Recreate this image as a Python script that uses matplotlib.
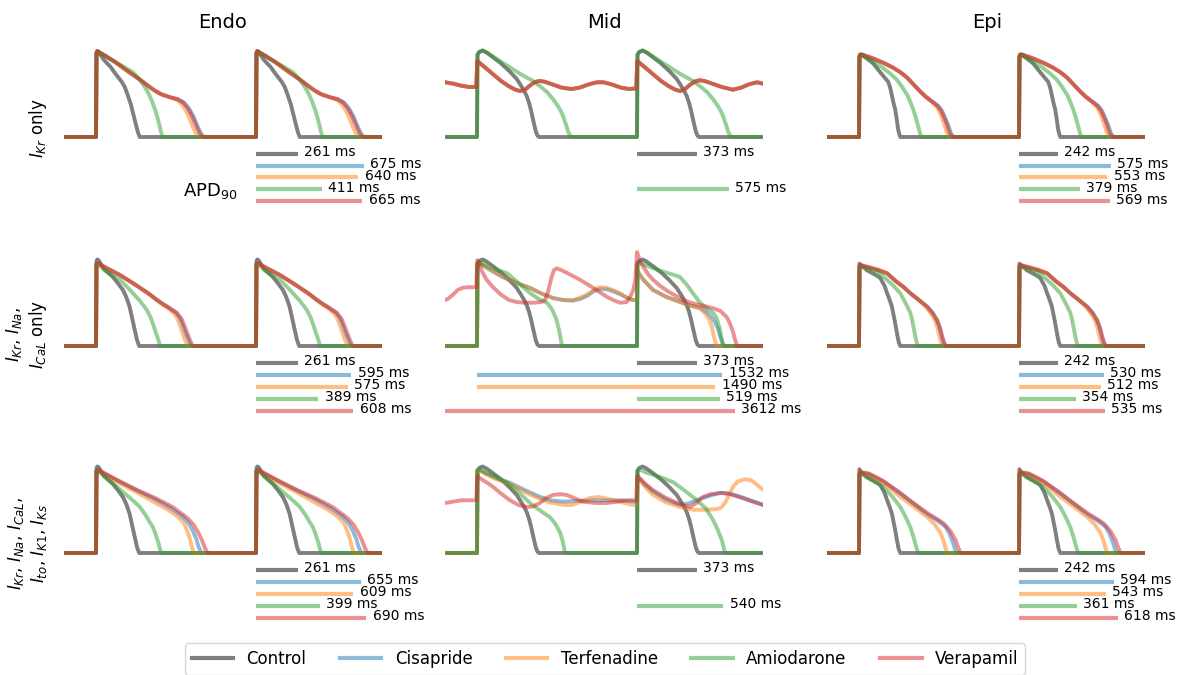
import matplotlib.pyplot as plt
from matplotlib.lines import Line2D

drugs = ["Control", "Cisapride", "Terfenadine", "Amiodarone", "Verapamil"]
colors = ["k", "tab:blue", "tab:orange", "tab:green", "tab:red"]
columns = ["Endo", "Mid", "Epi"]
row_labels = [r"$I_{Kr}$ only",
              r"$I_{Kr}$, $I_{Na}$," "\n" r"$I_{CaL}$ only",
              r"$I_{Kr}$, $I_{Na}$, $I_{CaL}$," "\n" r"$I_{to}$, $I_{K1}$, $I_{Ks}$"]

# APD90 (ms) per panel, order of drugs; None = no repolarisation
apd_endo = [[261, 675, 640, 411, 665], [261, 595, 575, 389, 608], [261, 655, 609, 399, 690]]
apd_mid = [[373, None, None, 575, None], [373, 1532, 1490, 519, 3612], [373, None, None, 540, None]]
apd_epi = [[242, 575, 553, 379, 569], [242, 530, 512, 354, 535], [242, 594, 543, 361, 618]]
# start of the APD bar (ms) in the Mid / I_Kr, I_Na, I_CaL panel
start_mid2 = [1000, 0, 0, 1000, -2000]

# single-beat traces (ms, mV), repeated every 1000 ms
endo_1 = {
    "Control": [(0, -86), (3, 38), (8, 41), (16, 40), (50, 28), (90, 18), (130, 5), (160, -4), (180, -12),
                (200, -25), (218, -38), (235, -54), (250, -68), (262, -79), (273, -86)],
    "Cisapride": [(0, -86), (3, 38), (8, 41), (16, 40), (60, 34), (120, 25), (200, 11), (280, -2), (330, -11),
                  (365, -17), (410, -23), (460, -27), (510, -30), (550, -35), (582, -44), (608, -55),
                  (628, -66), (648, -77), (665, -84), (682, -86)],
    "Terfenadine": [(0, -86), (3, 38), (8, 41), (16, 40), (60, 34), (120, 25), (200, 11), (280, -2), (330, -11),
                    (365, -17), (410, -23), (460, -27), (505, -31), (535, -37), (560, -46), (582, -57),
                    (600, -68), (618, -78), (633, -84), (646, -86)],
    "Amiodarone": [(0, -86), (3, 38), (8, 41), (16, 40), (60, 33), (120, 25), (180, 17), (230, 10), (270, 0),
                   (300, -10), (325, -20), (350, -33), (370, -46), (385, -58), (398, -70), (408, -80), (416, -86)],
    "Verapamil": [(0, -86), (3, 38), (8, 41), (16, 40), (60, 34), (120, 25), (200, 11), (280, -2), (330, -11),
                  (365, -17), (410, -23), (460, -27), (510, -30), (545, -35), (575, -44), (600, -55),
                  (620, -66), (640, -77), (657, -84), (672, -86)],
}
endo_2 = {
    "Control": [(0, -86), (3, 39), (8, 42), (16, 41), (50, 28), (106, 16), (140, 6), (168, -3), (190, -14),
                (210, -28), (226, -45), (242, -62), (256, -77), (270, -86)],
    "Cisapride": [(0, -86), (3, 35), (10, 37), (60, 30), (150, 19), (231, 7), (320, -7), (400, -21), (460, -30),
                  (500, -37), (527, -46), (546, -58), (562, -68), (577, -77), (590, -84), (600, -86)],
    "Terfenadine": [(0, -86), (3, 35), (10, 37), (60, 30), (150, 19), (231, 7), (320, -7), (400, -22), (455, -31),
                    (490, -38), (512, -47), (528, -58), (543, -68), (556, -77), (568, -84), (578, -86)],
    "Amiodarone": [(0, -86), (3, 35), (10, 36), (60, 25), (150, 12), (200, 0), (231, -8), (270, -18), (300, -27),
                   (318, -33), (340, -43), (356, -53), (372, -65), (390, -77), (400, -86)],
    "Verapamil": [(0, -86), (3, 35), (10, 37), (60, 30), (150, 19), (231, 7), (320, -7), (400, -21), (460, -30),
                  (506, -37), (535, -46), (556, -58), (572, -68), (587, -77), (600, -84), (612, -86)],
}
endo_3 = {
    "Control": [(0, -86), (3, 39), (8, 42), (16, 41), (50, 28), (106, 16), (140, 6), (168, -3), (190, -14),
                (210, -28), (226, -45), (242, -62), (256, -77), (270, -86)],
    "Cisapride": [(0, -86), (3, 35), (10, 37), (60, 31), (150, 19), (260, 6), (373, -7), (470, -20), (540, -32),
                  (580, -42), (605, -53), (625, -64), (640, -76), (655, -84), (662, -86)],
    "Terfenadine": [(0, -86), (3, 35), (10, 37), (60, 30), (150, 17), (260, 3), (373, -12), (450, -22),
                    (516, -33), (550, -42), (570, -53), (585, -64), (598, -76), (612, -86)],
    "Amiodarone": [(0, -86), (3, 35), (10, 36), (60, 26), (150, 8), (220, -6), (275, -18), (310, -30), (335, -40),
                   (356, -48), (375, -60), (390, -71), (400, -80), (410, -86)],
    "Verapamil": [(0, -86), (3, 35), (10, 37), (60, 31), (150, 20), (260, 7), (373, -5), (480, -18), (565, -33),
                  (610, -44), (640, -56), (662, -67), (680, -78), (692, -84), (700, -86)],
}
epi_1 = {
    "Control": [(0, -86), (3, 33), (8, 36), (20, 35), (50, 30), (88, 23), (132, 10), (160, 2), (182, -4),
                (195, -13), (206, -25), (216, -36), (226, -45), (236, -60), (245, -75), (252, -82), (258, -86)],
    "Cisapride": [(0, -86), (3, 33), (8, 36), (20, 36), (80, 31), (150, 24), (210, 17), (258, 10), (300, 2),
                  (340, -8), (384, -19), (420, -27), (460, -34), (496, -40), (518, -47), (534, -55), (548, -63),
                  (560, -70), (572, -79), (584, -84), (594, -86)],
    "Terfenadine": [(0, -86), (3, 33), (8, 36), (20, 36), (80, 31), (150, 24), (210, 17), (258, 10), (300, 2),
                    (340, -8), (384, -19), (420, -27), (460, -35), (485, -41), (502, -48), (516, -56), (528, -64),
                    (538, -71), (550, -80), (560, -85), (568, -86)],
    "Amiodarone": [(0, -86), (3, 33), (8, 36), (20, 35), (60, 30), (100, 24), (151, 16), (200, 7), (239, -2),
                   (270, -12), (302, -24), (322, -35), (340, -46), (356, -58), (371, -71), (382, -81), (390, -86)],
    "Verapamil": [(0, -86), (3, 33), (8, 36), (20, 36), (80, 31), (150, 24), (210, 17), (258, 10), (300, 2),
                  (340, -8), (384, -19), (420, -27), (460, -34), (490, -40), (512, -47), (528, -55), (542, -63),
                  (553, -70), (566, -79), (578, -84), (588, -86)],
}
epi_2 = {
    "Control": [(0, -86), (3, 36), (8, 34), (20, 32), (50, 26), (90, 21), (132, 15), (160, 3), (176, -8),
                (192, -18), (206, -28), (216, -40), (226, -52), (238, -68), (248, -80), (258, -86)],
    "Cisapride": [(0, -86), (3, 31), (10, 33), (60, 30), (120, 26), (176, 21), (230, 10), (280, 1), (321, -8),
                  (380, -19), (428, -28), (460, -37), (486, -48), (503, -59), (516, -71), (528, -81), (540, -86)],
    "Terfenadine": [(0, -86), (3, 31), (10, 33), (60, 30), (120, 26), (176, 21), (230, 10), (280, 1), (321, -8),
                    (380, -19), (420, -29), (450, -38), (475, -48), (490, -59), (502, -71), (513, -81), (524, -86)],
    "Amiodarone": [(0, -86), (3, 31), (10, 33), (50, 30), (113, 24), (170, 13), (220, 2), (258, -8), (290, -22),
                   (321, -37), (336, -52), (347, -66), (356, -76), (366, -86)],
    "Verapamil": [(0, -86), (3, 32), (10, 34), (60, 31), (120, 27), (176, 22), (230, 10), (280, 1), (321, -8),
                  (380, -19), (428, -28), (460, -37), (490, -48), (507, -59), (520, -71), (532, -81), (545, -86)],
}
epi_3 = {
    "Control": [(0, -86), (3, 38), (8, 34), (20, 32), (50, 26), (90, 21), (132, 15), (160, 3), (176, -8),
                (192, -18), (206, -28), (216, -40), (226, -52), (238, -68), (248, -80), (258, -86)],
    "Cisapride": [(0, -86), (3, 31), (10, 33), (60, 31), (150, 20), (258, 2), (340, -13), (428, -29), (490, -38),
                  (540, -47), (565, -57), (585, -69), (598, -79), (606, -86)],
    "Terfenadine": [(0, -86), (3, 31), (10, 33), (60, 30), (150, 18), (258, -3), (340, -17), (428, -33),
                    (470, -43), (509, -56), (528, -68), (540, -78), (548, -84), (555, -86)],
    "Amiodarone": [(0, -86), (3, 31), (10, 33), (60, 25), (151, 12), (210, -3), (258, -18), (290, -32), (321, -48),
                   (340, -62), (355, -75), (364, -82), (372, -86)],
    "Verapamil": [(0, -86), (3, 32), (10, 34), (60, 32), (150, 21), (258, 3), (340, -12), (428, -27), (490, -36),
                  (528, -42), (570, -53), (604, -67), (620, -78), (630, -84), (638, -86)],
}
mid_control = [(0, -86), (3, 36), (15, 40), (35, 42), (60, 39), (100, 32), (150, 23), (200, 12), (248, 0),
               (275, -10), (295, -18), (310, -25), (325, -35), (340, -49), (355, -65), (368, -78), (378, -84),
               (388, -86)]
mid_amio_1 = [(0, -86), (3, 36), (15, 40), (35, 42), (70, 38), (120, 30), (200, 18), (280, 6), (350, -3),
              (400, -12), (440, -20), (475, -30), (505, -40), (525, -48), (538, -55), (555, -67), (570, -78),
              (582, -84), (593, -86)]

# full traces (ms, mV) for the irregular Mid cell runs
mid_osc_1 = [(-200, -5), (-150, -7), (-100, -10), (-50, -12), (-5, -12), (2, 26), (10, 25), (50, 17), (100, 7),
             (150, -3), (200, -11), (240, -16), (270, -18), (300, -16), (330, -10), (360, -5), (390, -3),
             (420, -4), (470, -8), (530, -13), (590, -15), (640, -13), (700, -8), (750, -5), (790, -5),
             (840, -8), (900, -13), (950, -15), (995, -14), (1002, 26), (1010, 25), (1050, 17), (1100, 7),
             (1150, -3), (1200, -11), (1240, -16), (1270, -18), (1300, -15), (1330, -9), (1360, -4), (1390, -2),
             (1420, -3), (1470, -7), (1530, -12), (1600, -16), (1650, -13), (1700, -8), (1750, -5), (1790, -7)]
mid_cis_2 = [(-200, -86), (0, -86), (3, 36), (12, 37), (60, 30), (110, 23), (162, 16), (250, 7), (331, 0),
             (400, -8), (475, -15), (540, -18), (600, -19), (650, -16), (687, -12), (730, -5), (769, -2),
             (810, -2), (850, -5), (900, -10), (940, -15), (975, -18), (1000, -18), (1003, 26), (1010, 22),
             (1040, 12), (1100, -3), (1180, -13), (1270, -21), (1330, -26), (1395, -30), (1430, -35),
             (1460, -42), (1485, -50), (1505, -60), (1520, -72), (1535, -82), (1545, -86), (1790, -86)]
mid_ter_2 = [(-200, -86), (0, -86), (3, 36), (12, 37), (60, 30), (110, 23), (162, 16), (250, 7), (331, 0),
             (400, -8), (475, -15), (540, -18), (600, -18), (650, -14), (687, -10), (730, -3), (769, 1),
             (810, 0), (850, -3), (900, -9), (940, -15), (975, -18), (1000, -18), (1003, 26), (1010, 22),
             (1040, 12), (1100, -3), (1180, -13), (1270, -21), (1330, -26), (1395, -30), (1425, -38),
             (1450, -46), (1468, -58), (1480, -72), (1492, -82), (1500, -86), (1790, -86)]
mid_amio_2 = [(-200, -86), (0, -86), (3, 36), (12, 38), (60, 33), (120, 27), (187, 22), (260, 7), (333, -8),
              (390, -17), (437, -22), (470, -32), (498, -48), (515, -65), (525, -78), (531, -86), (1000, -86),
              (1003, 36), (1012, 38), (1060, 33), (1150, 25), (1220, 20), (1269, 16), (1310, 5), (1350, -8),
              (1394, -22), (1440, -31), (1477, -37), (1500, -46), (1519, -62), (1530, -76), (1540, -86),
              (1790, -86)]
mid_ver_2 = [(-200, -18), (-180, -16), (-150, -10), (-120, -3), (-90, 0), (-60, 1), (-5, 1), (2, 41), (10, 38),
             (30, 25), (60, 12), (100, 1), (150, -10), (200, -18), (250, -21), (300, -22), (350, -22),
             (400, -21), (425, -18), (445, -5), (465, 15), (480, 26), (498, 29), (530, 26), (580, 20),
             (644, 12), (727, 0), (810, -13), (860, -19), (894, -22), (935, -21), (960, -12), (977, -3),
             (990, 12), (1000, 53), (1005, 50), (1020, 38), (1040, 31), (1070, 20), (1100, 12), (1150, 2),
             (1200, -6), (1287, -18), (1350, -23), (1420, -27), (1475, -30), (1520, -34), (1560, -43),
             (1580, -52), (1600, -65), (1612, -76), (1625, -86), (1790, -86)]
mid_cis_3 = [(-200, -86), (0, -86), (3, 36), (12, 37), (60, 31), (120, 25), (206, 18), (300, 7), (394, -3),
             (460, -8), (537, -10), (630, -9), (725, -8), (810, -8), (894, -8), (940, -9), (975, -10),
             (1000, -10), (1003, 28), (1010, 26), (1050, 15), (1100, 5), (1180, -7), (1270, -15), (1330, -12),
             (1380, -7), (1420, -4), (1470, 0), (1525, 3), (1580, 2), (1650, -3), (1720, -9), (1790, -15)]
mid_ter_3 = [(-200, -86), (0, -86), (3, 36), (12, 37), (60, 30), (120, 23), (206, 16), (300, 4), (394, -6),
             (450, -11), (500, -13), (545, -15), (590, -15), (640, -11), (700, -5), (756, -3), (820, -6),
             (894, -10), (940, -13), (975, -15), (1000, -15), (1003, 26), (1010, 24), (1050, 12), (1100, 0),
             (1180, -11), (1270, -18), (1355, -22), (1440, -22), (1500, -21), (1525, -19), (1550, -12),
             (1575, 0), (1600, 12), (1630, 20), (1670, 23), (1712, 22), (1750, 15), (1790, 7)]
mid_amio_3 = [(-200, -86), (0, -86), (3, 36), (12, 38), (60, 33), (120, 26), (190, 18), (260, 4), (331, -12),
              (400, -24), (456, -33), (490, -43), (520, -56), (537, -70), (550, -86), (1000, -86), (1003, 36),
              (1012, 38), (1060, 33), (1150, 26), (1225, 19), (1300, 6), (1375, -8), (1430, -20), (1475, -37),
              (1505, -52), (1530, -67), (1542, -78), (1550, -86), (1790, -86)]
mid_ver_3 = [(-200, -12), (-150, -10), (-100, -8), (-50, -8), (-5, -8), (2, 28), (10, 26), (50, 20), (100, 12),
             (150, 2), (206, -8), (260, -15), (312, -18), (350, -17), (394, -12), (430, -5), (475, 0), (520, 1),
             (560, 0), (610, -5), (662, -10), (740, -12), (812, -12), (880, -10), (937, -8), (995, -8),
             (1002, 28), (1010, 26), (1050, 17), (1100, 7), (1170, -3), (1250, -12), (1300, -16), (1331, -18),
             (1370, -12), (1412, -3), (1460, 1), (1525, 3), (1580, 1), (1637, -3), (1710, -9), (1790, -15)]

T0, T1, REST = -200, 1790, -86


def two_beats(beat):
    pts = [(T0, REST)] + beat + [(t + 1000, v) for t, v in beat] + [(T1, REST)]
    return [p[0] for p in pts], [p[1] for p in pts]


def full(pts):
    return [p[0] for p in pts], [p[1] for p in pts]


traces = [
    [{d: two_beats(endo_1[d]) for d in drugs},
     {"Control": two_beats(mid_control), "Cisapride": full(mid_osc_1), "Terfenadine": full(mid_osc_1),
      "Amiodarone": two_beats(mid_amio_1), "Verapamil": full(mid_osc_1)},
     {d: two_beats(epi_1[d]) for d in drugs}],
    [{d: two_beats(endo_2[d]) for d in drugs},
     {"Control": two_beats(mid_control), "Cisapride": full(mid_cis_2), "Terfenadine": full(mid_ter_2),
      "Amiodarone": full(mid_amio_2), "Verapamil": full(mid_ver_2)},
     {d: two_beats(epi_2[d]) for d in drugs}],
    [{d: two_beats(endo_3[d]) for d in drugs},
     {"Control": two_beats(mid_control), "Cisapride": full(mid_cis_3), "Terfenadine": full(mid_ter_3),
      "Amiodarone": full(mid_amio_3), "Verapamil": full(mid_ver_3)},
     {d: two_beats(epi_3[d]) for d in drugs}],
]
apds = [[apd_endo[r], apd_mid[r], apd_epi[r]] for r in range(3)]

W, H = 1184, 675
fig = plt.figure(figsize=(W / 100, H / 100), dpi=100)


def box(left, top, w, h):
    return [left / W, 1 - (top + h) / H, w / W, h / H]


upstroke_px = [96, 477, 859]
rest_px = [137, 346, 553]
px_per_ms = 0.16
mv_per_px = 1.48

for r in range(3):
    for c in range(3):
        left = upstroke_px[c] + T0 * px_per_ms
        width = (T1 - T0) * px_per_ms
        ax = fig.add_axes(box(left, rest_px[r] - 100, width, 105))
        for d, col in zip(drugs, colors):
            t, v = traces[r][c][d]
            ax.plot(t, v, color=col, alpha=0.5, lw=2.8, solid_joinstyle='round')
        ax.set_xlim(T0, T1)
        ax.set_ylim(REST - 5 * mv_per_px, REST + 100 * mv_per_px)
        ax.axis('off')

        bx = fig.add_axes(box(left, rest_px[r] + 10.5, width, 60))
        for i, (d, col) in enumerate(zip(drugs, colors)):
            apd = apds[r][c][i]
            if apd is None:
                continue
            s = start_mid2[i] if (r == 1 and c == 1) else 1000
            bx.plot([s, s + apd], [i, i], color=col, alpha=0.5, lw=3, solid_capstyle='butt')
            bx.text(s + apd + 40, i - 0.1, f"{apd} ms", va='center', ha='left', fontsize=10, clip_on=False)
        bx.set_xlim(T0, T1)
        bx.set_ylim(4.5, -0.5)
        bx.axis('off')

title_x = [223, 604, 987]
for c in range(3):
    fig.text(title_x[c] / W, 1 - 23 / H, columns[c], ha='center', va='center', fontsize=14)

label_y = [128, 334, 543]
for r in range(3):
    fig.text(49 / W, 1 - label_y[r] / H, row_labels[r], rotation=90, ha='right', va='center',
             multialignment='center', fontsize=12)

fig.text(237 / W, 1 - 196 / H, r"APD$_{90}$", ha='right', va='baseline', fontsize=13)

handles = [Line2D([], [], color=col, alpha=0.5, lw=3) for col in colors]
fig.legend(handles, drugs, loc='lower center', bbox_to_anchor=(605 / W, -0.012), ncol=5, fontsize=12,
           handlelength=2.5, columnspacing=2.0)

fig.savefig("out.png", dpi=100)
